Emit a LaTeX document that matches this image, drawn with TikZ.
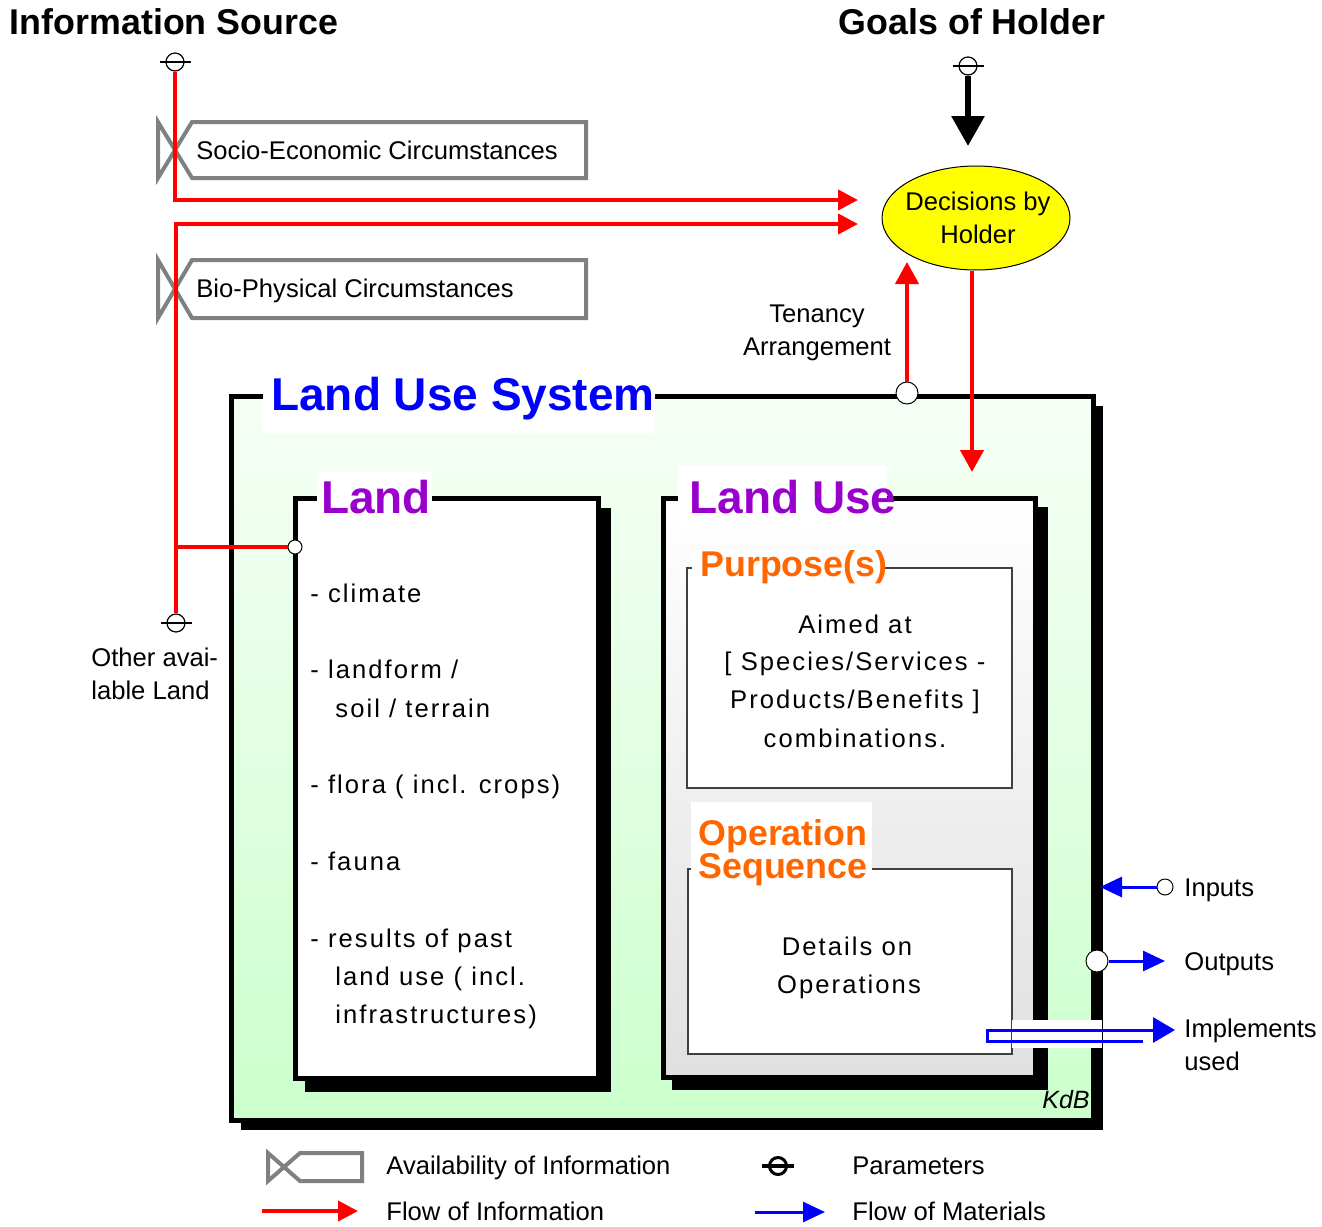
\documentclass[tikz,border=0pt]{standalone}
\usepackage{fontspec}
\setmainfont{Liberation Sans}
\newfontfamily\spacedfont[LetterSpace=8]{Liberation Sans}
\usetikzlibrary{arrows.meta,shapes.geometric}
\definecolor{infored}{RGB}{255,0,0}
\definecolor{matblue}{RGB}{0,0,255}
\definecolor{availgray}{RGB}{128,128,128}
\definecolor{lusgreen}{RGB}{204,255,204}
\definecolor{lusgreentop}{RGB}{246,255,246}
\definecolor{purp}{RGB}{153,0,204}
\definecolor{orng}{RGB}{255,102,0}
\definecolor{lugray}{RGB}{224,224,224}
\definecolor{holderyellow}{RGB}{255,255,0}
\begin{document}
\begin{tikzpicture}[x=0.5pt,y=-0.5pt,
  bigtitle/.style={font=\fontsize{17.9}{21}\selectfont\bfseries, inner sep=0, anchor=base},
  boxtitle/.style={font=\fontsize{23}{27}\selectfont\bfseries, inner sep=0, anchor=base},
  subtitle/.style={font=\fontsize{17.9}{21}\selectfont\bfseries, text=orng, inner sep=0, anchor=base west},
  lbl/.style={font=\fontsize{12.8}{16.5}\selectfont, inner sep=0},
  bodytxt/.style={font=\spacedfont\fontsize{12.8}{19.25}\selectfont, inner sep=0},
  infoflow/.style={draw=infored, line width=2pt, -{Triangle[length=10pt,width=10pt]}},
  infoline/.style={draw=infored, line width=2pt},
  matflow/.style={draw=matblue, line width=1.5pt, -{Triangle[length=11pt,width=10pt]}},
  avail/.style={draw=availgray, line width=2pt, line join=miter},
  paramc/.style={circle, draw, fill=white, line width=0.6pt, minimum size=9pt, inner sep=0},
  portc/.style={circle, draw, fill=white, line width=0.5pt, minimum size=11pt, inner sep=0},
  heavybox/.style={draw=black, line width=2.5pt},
  subbox/.style={draw=black!75, line width=0.8pt, fill=white},
]
\useasboundingbox (0,0) rectangle (1322,1226);

% ---------- headings ----------
\node[bigtitle] (infosrc) at (174,34) {Information Source};
\node[bigtitle] (goals) at (972,34) {Goals of Holder};

% ---------- availability of information ----------
\draw[avail] (158,122) -- (192,178) -- (586,178) -- (586,122) -- (192,122) -- (158,178) -- cycle;
\node[lbl, anchor=base west] (socio) at (196,159) {Socio-Economic Circumstances};
\draw[avail] (158,260) -- (192,318) -- (586,318) -- (586,260) -- (192,260) -- (158,318) -- cycle;
\node[lbl, anchor=base west] (bio) at (196,297) {Bio-Physical Circumstances};

% ---------- Land Use System ----------
\fill[black] (241,406) rectangle (1103,1130);
\draw[heavybox, top color=lusgreentop, bottom color=lusgreen] (231,396) rectangle (1093,1120);
\fill[white] (263,370) rectangle (655,433);
\node[boxtitle, text=matblue] (lustitle) at (463,410) {Land Use System};

% ---------- Land ----------
\fill[black] (305,508) rectangle (611,1092);
\draw[heavybox, fill=white] (295,498) rectangle (598,1078);
\fill[white] (317,472) rectangle (432,516);
\node[boxtitle, text=purp] (landtitle) at (376,513) {Land};
\node[bodytxt, anchor=base west] (l1) at (310,602) {- climate};
\node[bodytxt, anchor=base west] (l2) at (310,678) {- landform /};
\node[bodytxt, anchor=base west] (l3) at (335,717) {soil / terrain};
\node[bodytxt, anchor=base west] (l4) at (310,793) {- flora ( incl. crops)};
\node[bodytxt, anchor=base west] (l5) at (310,870) {- fauna};
\node[bodytxt, anchor=base west] (l6) at (310,947) {- results of past};
\node[bodytxt, anchor=base west] (l7) at (335,985) {land use ( incl.};
\node[bodytxt, anchor=base west] (l8) at (335,1023) {infrastructures)};

% ---------- Land Use ----------
\fill[black] (672,507) rectangle (1048,1090);
\draw[heavybox, top color=white, bottom color=lugray] (663,498) rectangle (1035,1077);
\fill[white] (678,466) rectangle (887,528);
\node[boxtitle, text=purp] (lutitle) at (793,513) {Land Use};

\draw[subbox] (687,568) rectangle (1012,788);
\fill[white] (692,550) rectangle (884,580);
\node[subtitle] (purpose) at (700,576) {Purpose(s)};
\node[bodytxt, anchor=base] (pur1) at (855,633) {Aimed at};
\node[bodytxt, anchor=base] (pur2) at (855,670) {[ Species/Services -};
\node[bodytxt, anchor=base] (pur3) at (855,708) {Products/Benefits ]};
\node[bodytxt, anchor=base] (pur4) at (855,747) {combinations.};

\draw[subbox] (688,869) rectangle (1012,1054);
\fill[white] (691,802) rectangle (872,884);
\node[subtitle] (op1) at (698,845) {Operation};
\node[subtitle] (op2) at (698,878) {Sequence};
\node[bodytxt, anchor=base] (det1) at (847,955) {Details on};
\node[bodytxt, anchor=base] (det2) at (849,993) {Operations};

\node[lbl, font=\fontsize{12.5}{15}\selectfont\itshape, anchor=base east] (kdb) at (1090,1108) {KdB};

% ---------- parameters ----------
\node[paramc] (pIS) at (175,62) {};
\node[paramc] (pGoal) at (968,66) {};
\node[paramc] (pOL) at (176,623) {};
\foreach \p in {pIS,pGoal,pOL}
  \draw[line width=0.6pt] ([xshift=-7.75pt]\p.center) -- ([xshift=7.75pt]\p.center);
\node[lbl, anchor=base west] (ol1) at (91,666) {Other avai-};
\node[lbl, anchor=base west] (ol2) at (91,699) {lable Land};

% ---------- holder ----------
\node[ellipse, draw, fill=holderyellow, line width=0.5pt, minimum width=94pt, minimum height=52pt, inner sep=0] (holder) at (976,218) {};
\node[lbl, anchor=base] (hold1) at (978,210) {Decisions by};
\node[lbl, anchor=base] (hold2) at (978,243) {Holder};

\coordinate (goaltip) at (968,146);
\draw[line width=3pt, -{Triangle[length=15pt,width=16pt]}] (pGoal.south) -- (goaltip);

% ---------- information flows ----------
\coordinate (in1) at (858,200);
\coordinate (in2) at (858,224);
\draw[infoflow] (pIS.south) |- (in1);
\draw[infoflow] (pOL.north) |- (in2);
\coordinate (j1) at (176,547);
\node[circle, draw, fill=white, line width=0.5pt, minimum size=7pt, inner sep=0] (landport) at (295,547) {};
\draw[infoline] (j1) -- (landport.west);

\node[lbl, anchor=base] (ten1) at (817,322) {Tenancy};
\node[lbl, anchor=base] (ten2) at (817,355) {Arrangement};
\node[portc] (tport) at (907,393) {};
\coordinate (tentip) at (907,262);
\draw[infoflow, -{Triangle[length=11pt,width=11.5pt]}] (tport.north) -- (tentip);

\coordinate (lutip) at (972,472);
\draw[infoflow, -{Triangle[length=11pt,width=11.5pt]}] (lutip |- holder.south) -- (lutip);

% ---------- material flows ----------
\node[circle, draw, fill=white, line width=0.5pt, minimum size=8pt, inner sep=0] (inport) at (1165,887) {};
\coordinate (intip) at (1100,887);
\draw[matflow] (inport.west) -- (intip);
\node[lbl, anchor=base west] (inputs) at (1184,896) {Inputs};

\node[portc] (outport) at (1097,961) {};
\coordinate (outtip) at (1165,961);
\draw[matflow] (outport.east) -- (outtip);
\node[lbl, anchor=base west] (outputs) at (1184,970) {Outputs};

\fill[white] (1012,1020) rectangle (1102,1048);
\coordinate (impstart) at (1143,1041);
\coordinate (imptip) at (1175,1030);
\draw[matflow, -{Triangle[length=11pt,width=12.5pt]}, line join=miter] (impstart) -- (987,1041) -- (987,1030) -- (imptip);
\node[lbl, anchor=base west] (impl1) at (1184,1037) {Implements};
\node[lbl, anchor=base west] (impl2) at (1184,1070) {used};

% ---------- legend ----------
\draw[avail] (268,1153) -- (300,1181) -- (362,1181) -- (362,1153) -- (300,1153) -- (268,1181) -- cycle;
\node[lbl, anchor=base west] (legavail) at (386,1174) {Availability of Information};
\node[circle, draw, line width=1.5pt, fill=white, minimum size=8.5pt, inner sep=0] (legparam) at (778,1166) {};
\draw[line width=1.6pt] ([xshift=-8pt]legparam.center) -- ([xshift=8pt]legparam.center);
\node[lbl, anchor=base west] (legparamtxt) at (852,1174) {Parameters};
\coordinate (legr0) at (262,1211);
\coordinate (legr1) at (358,1211);
\draw[infoflow] (legr0) -- (legr1);
\node[lbl, anchor=base west] (leginfo) at (386,1220) {Flow of Information};
\coordinate (legb0) at (755,1212);
\coordinate (legb1) at (825,1212);
\draw[matflow] (legb0) -- (legb1);
\node[lbl, anchor=base west] (legmat) at (852,1220) {Flow of Materials};
\end{tikzpicture}
\end{document}
